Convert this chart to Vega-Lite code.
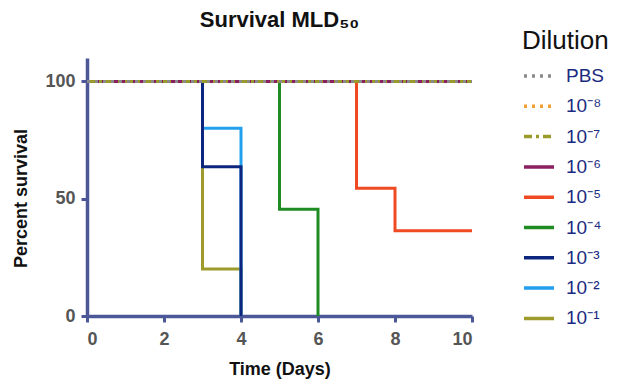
{
  "$schema": "https://vega.github.io/schema/vega-lite/v6.json",
  "width": 385,
  "height": 258,
  "autosize": "none",
  "padding": {"left": 87, "top": 58, "right": 151, "bottom": 68},
  "background": "white",
  "title": {"text": "Survival MLD₅₀", "fontSize": 22, "fontWeight": "bold", "font": "Liberation Sans", "color": "#111", "anchor": "middle", "offset": -4},
  "config": {
    "font": "Liberation Sans",
    "view": {"stroke": null},
    "axis": {"domainColor": "#4b5796", "domainWidth": 3.5, "tickColor": "#4b5796", "tickWidth": 3, "tickSize": 6, "labelFontSize": 18, "labelFontWeight": "bold", "labelColor": "#555", "titleFontSize": 18, "titleFontWeight": "bold", "titleColor": "#111", "grid": false, "labelPadding": 6}
  },
  "data": {"values": [
    {"dil": "10⁻¹", "day": 0, "pct": 100}, {"dil": "10⁻¹", "day": 3, "pct": 20}, {"dil": "10⁻¹", "day": 4, "pct": 0},
    {"dil": "10⁻²", "day": 0, "pct": 100}, {"dil": "10⁻²", "day": 3, "pct": 80}, {"dil": "10⁻²", "day": 4, "pct": 0},
    {"dil": "10⁻³", "day": 0, "pct": 100}, {"dil": "10⁻³", "day": 3, "pct": 63.6}, {"dil": "10⁻³", "day": 4, "pct": 0},
    {"dil": "10⁻⁴", "day": 0, "pct": 100}, {"dil": "10⁻⁴", "day": 5, "pct": 45.5}, {"dil": "10⁻⁴", "day": 6, "pct": 0},
    {"dil": "10⁻⁵", "day": 0, "pct": 100}, {"dil": "10⁻⁵", "day": 7, "pct": 54.5}, {"dil": "10⁻⁵", "day": 8, "pct": 36.4}, {"dil": "10⁻⁵", "day": 10, "pct": 36.4},
    {"dil": "10⁻⁶", "day": 0, "pct": 100}, {"dil": "10⁻⁶", "day": 10, "pct": 100},
    {"dil": "10⁻⁷", "day": 0, "pct": 100}, {"dil": "10⁻⁷", "day": 10, "pct": 100},
    {"dil": "10⁻⁸", "day": 0, "pct": 100}, {"dil": "10⁻⁸", "day": 10, "pct": 100},
    {"dil": "PBS", "day": 0, "pct": 100}, {"dil": "PBS", "day": 10, "pct": 100}
  ]},
  "mark": {"type": "line", "interpolate": "step-after", "strokeWidth": 3},
  "encoding": {
    "x": {"field": "day", "type": "quantitative", "scale": {"domain": [0, 10], "nice": false}, "axis": {"values": [0, 2, 4, 6, 8, 10], "title": "Time (Days)", "titlePadding": 12, "labelPadding": 8}},
    "y": {"field": "pct", "type": "quantitative", "scale": {"domain": [0, 110], "nice": false}, "axis": {"values": [0, 50, 100], "title": "Percent survival", "titlePadding": 14, "titleY": 140}},
    "color": {"field": "dil", "type": "nominal", "sort": null,
      "scale": {"domain": ["PBS", "10⁻⁸", "10⁻⁷", "10⁻⁶", "10⁻⁵", "10⁻⁴", "10⁻³", "10⁻²", "10⁻¹"],
                "range": ["#8a8a8a", "#f0a030", "#9a9a2a", "#8a2060", "#f04a22", "#1e8c22", "#0c2680", "#22a0ee", "#9e9a2c"]},
      "legend": {"orient": "none", "legendX": 435, "legendY": -30, "title": "Dilution", "titleFontSize": 26, "titleFontWeight": "normal", "titleColor": "#111", "titlePadding": 5, "labelFontSize": 19, "labelColor": "#1a2a80", "symbolType": "stroke", "symbolSize": 900, "symbolStrokeWidth": 3.5, "rowPadding": 3.3, "labelOffset": 10}},
    "strokeDash": {"field": "dil", "type": "nominal", "sort": null,
      "scale": {"domain": ["PBS", "10⁻⁸", "10⁻⁷", "10⁻⁶", "10⁻⁵", "10⁻⁴", "10⁻³", "10⁻²", "10⁻¹"],
                "range": [[3, 5], [3, 5], [8, 4, 3, 4], [1, 0], [1, 0], [1, 0], [1, 0], [1, 0], [1, 0]]}}
  }
}
